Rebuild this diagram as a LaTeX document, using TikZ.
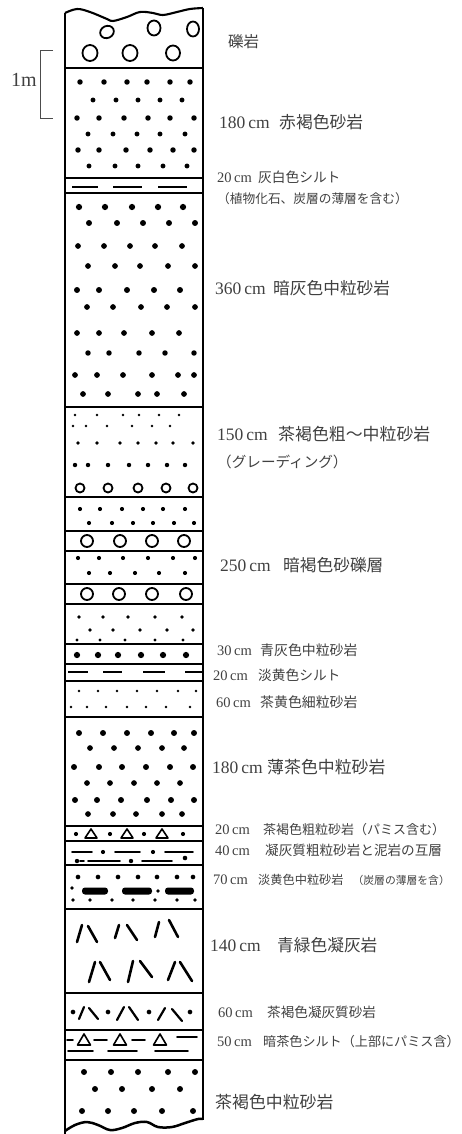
\documentclass[tikz,border=0pt]{standalone}
\usepackage{fontspec}
\setmainfont{Liberation Serif}
\newfontfamily\jpfam{Noto Sans CJK JP}
% label fonts: numbers (large / small) and Japanese text at a given size
\newcommand\nL{\fontsize{17.5}{17.5}\selectfont}
\newcommand\nS{\fontsize{14.5}{14.5}\selectfont}
\newcommand\jL[1]{\jpfam\fontsize{#1}{#1}\selectfont}
% one stratum label: name, x, y, offset of the Japanese text, thickness, description
\newcommand\strat[6]{\node[lab] (#1) at (#2,#3) {\makebox[#4pt][l]{#5}#6};}
% a row of sand grains: y, radius, list of x
\newcommand\grains[3]{\foreach \gx in {#3} \fill (\gx,#1) circle[radius=1.3*#2pt];}
% a row of pebbles: y, radius, list of x
\newcommand\pebbles[3]{\foreach \gx in {#3} \draw[pebble] (\gx,#1) circle[radius=#2pt];}
% a row of dashes (silt): y, list of x1/x2
\newcommand\siltdash[2]{\foreach \ga/\gb in {#2} {\draw[silt] (\ga,#1-0.8) -- (\gb,#1-0.8); \draw[silt] (\ga,#1+0.8) -- (\gb,#1+0.8);}}
\begin{document}
\begin{tikzpicture}[x=1pt,y=-1pt,
  col/.style={line width=2.1pt, line join=round},
  bed/.style={line width=1.7pt},
  pebble/.style={line width=1.8pt},
  silt/.style={line width=0.8pt},
  mud/.style={line width=1.8pt, line cap=round},
  shard/.style={line width=2.6pt, line cap=round},
  pumice/.style={line width=1.6pt, line join=round},
  lab/.style={inner sep=0pt, anchor=west, text=black!75}]
\useasboundingbox (0,0) rectangle (461,1134);

% ---- column outline ----
\draw[col] plot[smooth, tension=0.6] coordinates {(65,13) (77,9) (90,12) (107,19) (113,21) (127,17) (140,12) (153,13) (163,15) (177,12) (190,9) (203,8)};
\draw[col] (65,13) -- (65,1134);
\draw[col] (203,8) -- (203,1120);
\draw[line width=2.5pt] plot[smooth, tension=0.6] coordinates {(65,1131) (75,1125) (87,1122) (98,1125) (110,1130) (122,1128) (135,1123) (147,1122) (158,1127) (172,1127) (185,1123) (198,1119) (203,1119)};

% ---- bed boundaries ----
\foreach \by in {68,178,193,664,681,717,826,841,865,909,993,1030,1060}
  \draw[bed] (65,\by) -- (203,\by);
\foreach \by in {407,497,531,551,584,604,644}
  \draw[line width=2.1pt] (65,\by) -- (203,\by);

% ---- conglomerate ----
\draw[pebble] (107,32) ellipse[x radius=7pt, y radius=6pt, rotate=25];
\draw[pebble] (154,28) ellipse[x radius=6.5pt, y radius=7.5pt];
\draw[pebble] (193,29) ellipse[x radius=6pt, y radius=7.5pt];
\draw[pebble] (90,53) ellipse[x radius=7.5pt, y radius=8pt];
\draw[pebble] (130,53) ellipse[x radius=7.5pt, y radius=8pt];
\draw[pebble] (173,53) ellipse[x radius=7pt, y radius=7.5pt];

% ---- 180 cm sandstone ----
\grains{82}{2.1}{80,104,127,147,170,190}
\grains{100}{1.9}{93,116,138,160,182}
\grains{118}{2.1}{77,99,124,148,170,194}
\grains{134}{1.9}{88,113,137,160,185}
\grains{150}{2.1}{78,99,126,150,173,194}
\grains{166}{1.9}{89,115,138,163,187}

% ---- 20 cm silt ----
\siltdash{187}{72/98,113/142,158/187}

% ---- 360 cm sandstone ----
\grains{207}{2.4}{79,105,132,158,183}
\grains{223}{2.3}{89,117,143,169,195}
\grains{246}{2.2}{78,104,130,155,182}
\grains{266}{2.2}{88,115,140,168,195}
\grains{290}{2.3}{77,99,127,154,180}
\grains{307}{2.2}{87,113,141,167,195}
\grains{333}{2.2}{77,99,124,152,179}
\grains{353}{2.1}{88,109,139,165,194}
\grains{375}{2.2}{75,97,123,152,178,194}
\grains{394}{2.2}{83,108,138,157,184}

% ---- 150 cm graded sandstone ----
\grains{415}{1.0}{75,97,123,139,159,179}
\grains{426}{1.0}{73,86,107,132,152,170}
\grains{443}{1.5}{78,97,120,138,156,173,193}
\grains{465}{1.7}{75,88,108,129,148,167,185}
\pebbles{488}{4.5}{80,108,138,166,193}

% ---- 250 cm sandy gravel ----
\grains{509}{1.6}{80,100,122,143,163,185}
\grains{523}{1.6}{89,112,133,153,174,194}
\pebbles{541}{6}{87,120,152,184}
\grains{558}{1.6}{78,99,123,148,173,195}
\grains{573}{1.6}{89,110,135,159,185}
\pebbles{594}{6}{87,119,152,186}
\grains{617}{1.4}{79,103,128,155,182}
\grains{630}{1.4}{90,113,140,167,193}
\grains{640}{1.2}{77,100,125,155,183}

% ---- 30 cm sandstone ----
\grains{655}{2.4}{77,98,118,141,163,186}

% ---- 20 cm silt ----
\siltdash{672}{68/88,103/122,143/165,185/202}

% ---- 60 cm fine sandstone ----
\grains{691}{1.0}{79,98,117,137,157,178,196}
\grains{707}{1.0}{71,87,106,127,146,166,190}

% ---- 180 cm sandstone ----
\grains{733}{2.3}{79,103,127,151,174,194}
\grains{748}{2.2}{90,114,138,162,184}
\grains{767}{2.3}{74,99,122,146,170,193}
\grains{783}{2.2}{87,110,134,157,180}
\grains{800}{2.3}{75,97,121,147,171,194}
\grains{814}{2.2}{88,113,136,162,182}

% ---- 20 cm coarse sandstone with pumice ----
\foreach \tx in {91,127,162}
  \draw[pumice] (\tx-6,838) -- (\tx,829) -- (\tx+6,838) -- cycle;
\grains{834}{1.6}{76,110,144,183}

% ---- 40 cm alternation ----
\foreach \ga/\gb in {72/92,115/140,165/193} \draw[mud] (\ga,852) -- (\gb,852);
\grains{852}{1.6}{103,153}
\foreach \ga/\gb in {80/84,88/120,142/172} \draw[mud] (\ga,861) -- (\gb,861);
\grains{861}{1.7}{77,131}
\fill (185,858) circle[radius=2.3pt];

% ---- 70 cm sandstone with coal seams ----
\grains{877}{1.8}{78,98,118,138,157,177,193}
\foreach \ga/\gb in {82/108,122/152,165/194}
  \fill[rounded corners=3pt] (\ga,887.5) rectangle (\gb,894.5);
\fill (72,888) circle[radius=1.8pt];
\fill (158,891) circle[radius=1.8pt];
\grains{900}{1.4}{73,90,112,133,155,177,195}

% ---- 140 cm tuff ----
\foreach \ax/\ay/\bx/\by in {77/942/82/925, 88/926/97/942, 115/938/119/925, 127/925/137/940,
    155/937/159/922, 169/920/178/937, 89/982/95/962, 100/962/110/980, 128/982/133/961,
    140/961/152/977, 168/980/175/962, 180/962/192/981}
  \draw[shard] (\ax,\ay) -- (\bx,\by);

% ---- 60 cm tuffaceous sandstone ----
\grains{1012}{1.8}{73,108,149,190}
\foreach \ax/\ay/\bx/\by in {79/1019/84/1007, 89/1008/98/1019, 117/1020/124/1007,
    129/1007/138/1020, 158/1020/165/1008, 172/1009/182/1021}
  \draw[shard, line width=2.2pt] (\ax,\ay) -- (\bx,\by);

% ---- 50 cm silt with pumice ----
\foreach \ga/\gb/\gy in {67/73/1040, 94/107/1040, 132/145/1040, 177/197/1037,
    68/93/1051, 108/137/1051, 155/188/1051}
  \draw[mud] (\ga,\gy) -- (\gb,\gy);
\foreach \tx in {84,120,160}
  \draw[pumice] (\tx-6.5,1045) -- (\tx,1034) -- (\tx+6.5,1045) -- cycle;

% ---- basal sandstone ----
\grains{1072}{2.3}{84,111,138,168,195}
\grains{1089}{2.3}{95,122,152,180}
\grains{1111}{2.3}{82,108,134,162,193}

% ---- scale bar ----
\draw[line width=0.9pt, black!70] (53,50) -- (40,50) -- (40,118) -- (53,118);
\node[lab, font=\fontsize{20}{20}\selectfont] (scale) at (11,80) {1m};

% ---- labels ----
\node[lab] (conglo) at (228,42) {\jL{15.5}礫岩};
\strat{s180a}{219}{122}{60}{\nL 180\,cm}{\jL{16.8}赤褐色砂岩}
\strat{s20a}{217}{177}{41}{\nS 20\,cm}{\jL{13.7}灰白色シルト}
\node[lab] (s20note) at (217,199) {\jL{12.7}（植物化石、炭層の薄層を含む）};
\strat{s360}{215}{288}{58}{\nL 360\,cm}{\jL{16.7}暗灰色中粒砂岩}
\strat{s150}{217}{434}{61}{\nL 150\,cm}{\jL{16.9}茶褐色粗～中粒砂岩}
\node[lab] (s150note) at (217,462) {\jL{14.6}（グレーディング）};
\strat{s250}{220}{565}{63}{\nL 250\,cm}{\jL{16.7}暗褐色砂礫層}
\strat{s30}{217}{650}{43}{\nS 30\,cm}{\jL{13.9}青灰色中粒砂岩}
\strat{s20b}{213}{675}{45}{\nS 20\,cm}{\jL{13.7}淡黄色シルト}
\strat{s60a}{216}{702}{44}{\nS 60\,cm}{\jL{13.9}茶黄色細粒砂岩}
\strat{s180b}{212}{767}{55}{\nL 180\,cm}{\jL{16.9}薄茶色中粒砂岩}
\strat{s20c}{215}{830}{48}{\nS 20\,cm}{\jL{13}茶褐色粗粒砂岩（パミス含む）}
\strat{s40}{215}{850}{50}{\nS 40\,cm}{\jL{13.6}凝灰質粗粒砂岩と泥岩の互層}
\strat{s70}{213}{880}{45}{\nS 70\,cm}{{\jL{12.2}淡黄色中粒砂岩}\hspace{9pt}{\jL{10.8}（炭層の薄層を含）}}
\strat{s140}{210}{945}{67}{\nL 140\,cm}{\jL{16.7}青緑色凝灰岩}
\strat{s60b}{218}{1012}{49}{\nS 60\,cm}{\jL{13.6}茶褐色凝灰質砂岩}
\strat{s50}{217}{1042}{46}{\nS 50\,cm}{\jL{13.1}暗茶色シルト（上部にパミス含）}
\node[lab] (base) at (215,1102) {\jL{16.9}茶褐色中粒砂岩};
\end{tikzpicture}
\end{document}
